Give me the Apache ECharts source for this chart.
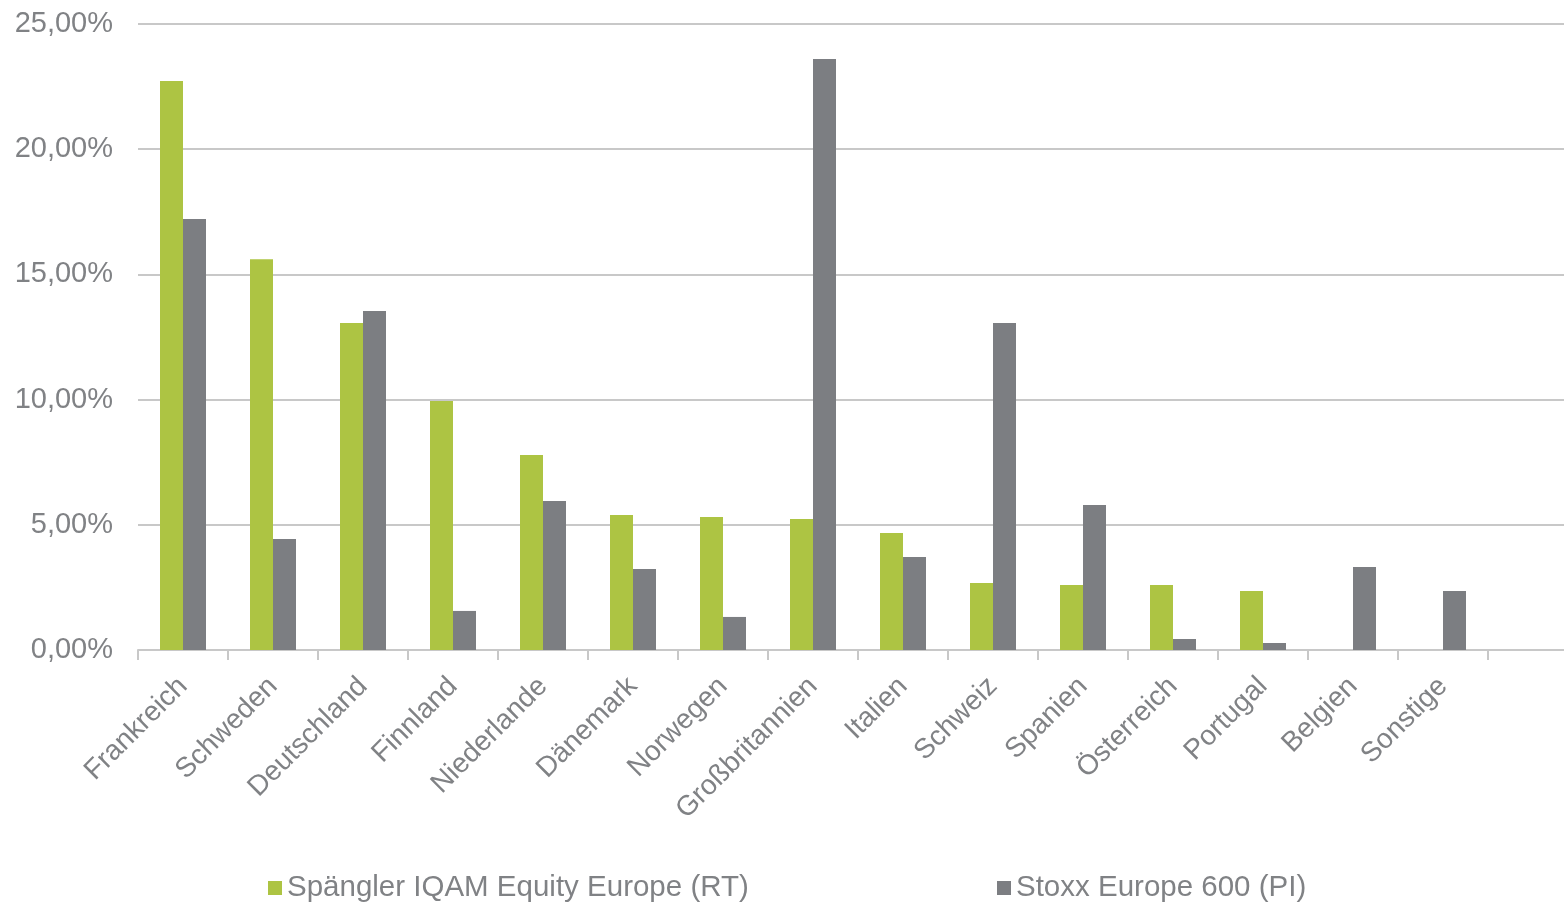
<!DOCTYPE html>
<html>
<head>
<meta charset="utf-8">
<script src="https://cdn.jsdelivr.net/npm/echarts@6/dist/echarts.min.js"></script>
<style>
html,body{margin:0;padding:0;background:#fff;overflow:hidden;width:1564px;height:904px;}
#chart{width:1578px;height:904px;}
</style>
</head>
<body>
<div id="chart"></div>
<script>
const categories = ['Frankreich','Schweden','Deutschland','Finnland','Niederlande','Dänemark','Norwegen','Großbritannien','Italien','Schweiz','Spanien','Österreich','Portugal','Belgien','Sonstige',''];
const seriesNames = ['Spängler IQAM Equity Europe (RT)','Stoxx Europe 600 (PI)'];
const fundValues = [22.72,15.61,13.06,9.94,7.79,5.39,5.31,5.23,4.67,2.68,2.60,2.60,2.36,null,null,null];
const indexValues = [17.21,4.43,13.54,1.56,5.95,3.23,1.32,23.60,3.71,13.06,5.79,0.44,0.28,3.31,2.36,null];
const yTicks = {min:0, max:25, interval:5};

const textColor = '#808285';
const font = 'Liberation Sans, Arial, sans-serif';
const chart = echarts.init(document.getElementById('chart'));
chart.setOption({
  animation:false,
  backgroundColor:'#fff',
  grid:{left:138, top:24, right:0, bottom:254, containLabel:false},
  legend:[
    {data:[seriesNames[0]], left:263, top:868, itemWidth:14, itemHeight:14, icon:'rect', itemGap:8,
     textStyle:{color:textColor, fontSize:29.5, fontFamily:font}},
    {data:[seriesNames[1]], left:992, top:868, itemWidth:14, itemHeight:14, icon:'rect', itemGap:8,
     textStyle:{color:textColor, fontSize:29.5, fontFamily:font}}
  ],
  xAxis:{
    type:'category', data:categories, boundaryGap:true,
    axisLine:{lineStyle:{color:'#c8c8c8', width:2}},
    axisTick:{show:true, alignWithLabel:false, length:10, lineStyle:{color:'#c8c8c8', width:2}},
    axisLabel:{rotate:45, interval:0, margin:32, color:textColor, fontSize:28, fontFamily:font}
  },
  yAxis:{
    type:'value', min:yTicks.min, max:yTicks.max, interval:yTicks.interval,
    axisLine:{show:false}, axisTick:{show:false},
    splitLine:{lineStyle:{color:'#c8c8c8', width:2}},
    axisLabel:{margin:25, color:textColor, fontSize:29, fontFamily:font,
      formatter:v=>v.toFixed(2).replace('.',',')+'%'}
  },
  series:[
    {name:seriesNames[0], type:'bar', data:fundValues, barWidth:23, barGap:'0%', itemStyle:{color:'#adc443'}},
    {name:seriesNames[1], type:'bar', data:indexValues, barWidth:23, barGap:'0%', itemStyle:{color:'#7c7e82'}}
  ]
});
</script>
</body>
</html>
